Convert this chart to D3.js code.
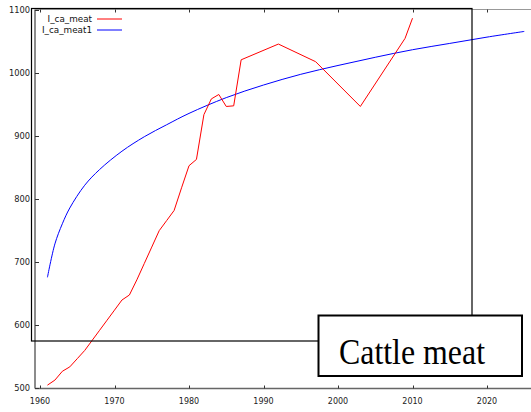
<!DOCTYPE html>
<html>
<head>
<meta charset="utf-8">
<script src="https://cdn.jsdelivr.net/npm/d3@7"></script>
<style>
  body { margin: 0; background: #fff; }
  svg { display: block; }
</style>
</head>
<body>
<svg id="chart"></svg>
<script>
// series
const meatYears = [1961, 1962, 1963, 1964, 1965, 1966, 1967, 1968, 1969, 1970,
    1971, 1972, 1973, 1974, 1975, 1976, 1977, 1978, 1979, 1980,
    1981, 1982, 1983, 1984, 1985, 1986, 1987, 1992, 1997, 2003, 2009, 2010];
const meatValues = [505, 513, 527, 534, 547, 560, 576, 592, 608, 624,
    640, 648, 672, 698, 724, 750, 766, 782, 818, 853,
    863, 934, 959, 966, 947, 948, 1021, 1046, 1018, 947, 1055, 1087];

const fitYears = [1961, 1962, 1963, 1964, 1966, 1968, 1971, 1974, 1977, 1980,
    1985, 1990, 1995, 2000, 2005, 2010, 2015, 2020, 2025];
const fitValues = [676, 729, 761, 786, 822, 847, 876, 899, 918, 936,
    961, 981, 998, 1012, 1025, 1037, 1047, 1057, 1066];

const xTicks = [1960, 1970, 1980, 1990, 2000, 2010, 2020];
const yTicks = [500, 600, 700, 800, 900, 1000, 1100];
const seriesNames = ["I_ca_meat", "I_ca_meat1"];
const seriesColors = ["#ff0000", "#0000ff"];
const title = "Cattle meat";

const width = 531, height = 412;
const svg = d3.select("#chart")
    .attr("width", width)
    .attr("height", height);

const x = d3.scaleLinear().domain([1960, 2020]).range([40, 487]);
const y = d3.scaleLinear().domain([500, 1100]).range([388.3, 10]);

const frameLeft = 35, frameRight = 531, frameTop = 9.5, frameBottom = 388.5;
const axisColor = "#666";

// axes frame
svg.append("line").attr("x1", frameLeft).attr("x2", frameRight).attr("y1", frameBottom).attr("y2", frameBottom)
    .attr("stroke", axisColor).attr("stroke-width", 1.5);
svg.append("line").attr("x1", frameLeft).attr("x2", frameLeft).attr("y1", frameTop).attr("y2", frameBottom)
    .attr("stroke", axisColor).attr("stroke-width", 1.5);
svg.append("line").attr("x1", frameLeft).attr("x2", frameRight).attr("y1", frameTop).attr("y2", frameTop)
    .attr("stroke", "#999").attr("stroke-width", 1);

// bottom / top ticks + labels
const xg = svg.append("g");
xg.selectAll(".xt").data(xTicks).enter().append("line")
    .attr("x1", d => Math.round(x(d)) + 0.5).attr("x2", d => Math.round(x(d)) + 0.5)
    .attr("y1", frameBottom).attr("y2", frameBottom - 3)
    .attr("stroke", "#333");
xg.selectAll(".xtop").data(xTicks).enter().append("line")
    .attr("x1", d => Math.round(x(d)) + 0.5).attr("x2", d => Math.round(x(d)) + 0.5)
    .attr("y1", frameTop).attr("y2", frameTop + 3)
    .attr("stroke", "#333");
xg.selectAll("text").data(xTicks).enter().append("text")
    .attr("x", d => x(d))
    .attr("y", 403.5)
    .attr("text-anchor", "middle")
    .attr("font-family", "DejaVu Sans, sans-serif")
    .attr("font-size", "8px")
    .attr("fill", "#222")
    .text(d => d);

// left ticks + labels
const yg = svg.append("g");
yg.selectAll("line").data(yTicks).enter().append("line")
    .attr("x1", frameLeft).attr("x2", frameLeft + 4)
    .attr("y1", d => Math.round(y(d)) + 0.5).attr("y2", d => Math.round(y(d)) + 0.5)
    .attr("stroke", "#333");
yg.selectAll("text").data(yTicks).enter().append("text")
    .attr("x", 30)
    .attr("y", d => y(d))
    .attr("dy", "0.35em")
    .attr("text-anchor", "end")
    .attr("font-family", "DejaVu Sans, sans-serif")
    .attr("font-size", "8.3px")
    .attr("fill", "#222")
    .text(d => d);

// lines
const meatData = meatYears.map((yr, i) => ({ year: yr, value: meatValues[i] }));
const fitData = fitYears.map((yr, i) => ({ year: yr, value: fitValues[i] }));

svg.append("path")
    .datum(fitData)
    .attr("fill", "none")
    .attr("stroke", seriesColors[1])
    .attr("stroke-width", 1)
    .attr("d", d3.line().x(d => x(d.year)).y(d => y(d.value)).curve(d3.curveCatmullRom.alpha(0.5)));

svg.append("path")
    .datum(meatData)
    .attr("fill", "none")
    .attr("stroke", seriesColors[0])
    .attr("stroke-width", 1)
    .attr("d", d3.line().x(d => x(d.year)).y(d => y(d.value)));

// legend box
svg.append("rect")
    .attr("x", 31.5).attr("y", 8.5)
    .attr("width", 440.5).attr("height", 332.5)
    .attr("fill", "none")
    .attr("stroke", "#000")
    .attr("stroke-width", 1.2);

const legend = svg.append("g");
seriesNames.forEach((name, i) => {
    const ly = 19 + i * 11;
    legend.append("text")
        .attr("x", 92).attr("y", ly)
        .attr("dy", "0.35em")
        .attr("text-anchor", "end")
        .attr("font-family", "DejaVu Sans, sans-serif")
        .attr("font-size", "8.8px")
        .attr("fill", "#111")
        .text(name);
    legend.append("line")
        .attr("x1", 97).attr("x2", 122)
        .attr("y1", ly).attr("y2", ly)
        .attr("stroke", seriesColors[i]);
});

// title box
svg.append("rect")
    .attr("x", 318.5).attr("y", 315.5)
    .attr("width", 203.5).attr("height", 60.5)
    .attr("fill", "#fff")
    .attr("stroke", "#000")
    .attr("stroke-width", 2);
svg.append("text")
    .attr("x", 339).attr("y", 364)
    .attr("font-family", "Liberation Serif, serif")
    .attr("font-size", "35px")
    .attr("textLength", 146)
    .attr("lengthAdjust", "spacingAndGlyphs")
    .attr("fill", "#000")
    .text(title);
</script>
</body>
</html>
